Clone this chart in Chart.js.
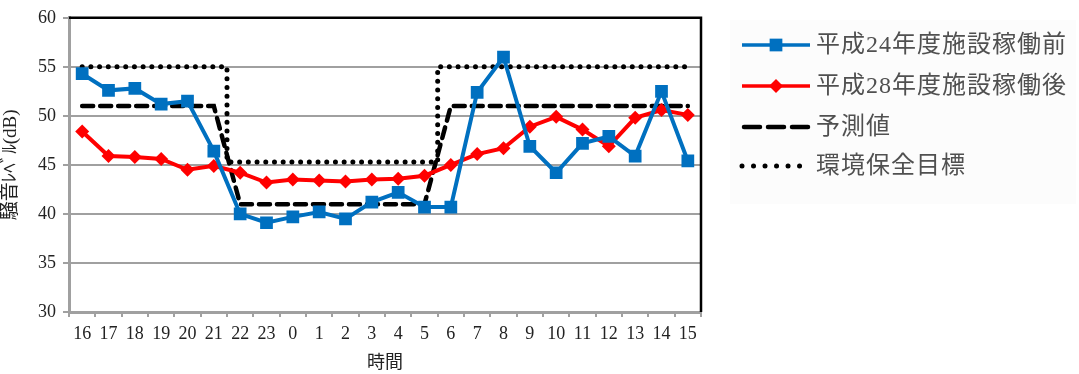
<!DOCTYPE html>
<html>
<head>
<meta charset="utf-8">
<script src="https://cdn.jsdelivr.net/npm/chart.js@4/dist/chart.umd.min.js"></script>
<style>
  html, body { margin: 0; padding: 0; background: #fff; }
  #wrap { width: 1079px; height: 374px; }
</style>
</head>
<body>
<div id="wrap"><canvas id="c" width="1079" height="374"></canvas></div>
<script>
// Hours of the 24-hour survey, starting at 16:00
const hours = ['16','17','18','19','20','21','22','23','0','1','2','3','4','5','6','7','8','9','10','11','12','13','14','15'];

// Measured noise levels (dB)
const beforeH24 = [54.3, 52.6, 52.8, 51.2, 51.5, 46.4, 40.0, 39.1, 39.7, 40.2, 39.5, 41.2,
                   42.2, 40.7, 40.7, 52.4, 56.0, 46.9, 44.2, 47.2, 47.9, 45.9, 52.5, 45.4];
const afterH28  = [48.4, 45.9, 45.8, 45.6, 44.5, 44.9, 44.2, 43.2, 43.5, 43.4, 43.3, 43.5,
                   43.6, 43.9, 45.0, 46.1, 46.7, 48.9, 49.9, 48.6, 46.9, 49.8, 50.6, 50.1];

// Predicted level and environmental target (day / night)
const predicted = [51, 51, 51, 51, 51, 51, 41, 41, 41, 41, 41, 41,
                   41, 41, 51, 51, 51, 51, 51, 51, 51, 51, 51, 51];
const target    = [55, 55, 55, 55, 55, 55, 45.3, 45.3, 45.3, 45.3, 45.3, 45.3,
                   45.3, 45.3, 55, 55, 55, 55, 55, 55, 55, 55, 55, 55];

const seriesNames = ['平成24年度施設稼働前', '平成28年度施設稼働後', '予測値', '環境保全目標'];
const yTicks = { min: 30, max: 60, step: 5 };

const FONT = "'Liberation Serif', 'Noto Sans CJK JP', serif";
const GRID = '#a0a0a0';

// Frame: black top edge and right edge of the plot area
const framePlugin = {
  id: 'frame',
  beforeDatasetsDraw(chart) {
    const { ctx, chartArea: a } = chart;
    ctx.save();
    ctx.strokeStyle = '#000';
    ctx.lineWidth = 2.5;
    ctx.beginPath();
    ctx.moveTo(a.left, a.top);
    ctx.lineTo(a.right, a.top);
    ctx.lineTo(a.right, a.bottom);
    ctx.stroke();
    ctx.restore();
  }
};

// Legend drawn from each dataset's own style
const legendPlugin = {
  id: 'sideLegend',
  afterDraw(chart) {
    const { ctx } = chart;
    ctx.save();
    ctx.fillStyle = '#fcfcfc';
    ctx.fillRect(730, 20, 346, 184);
    const rowsY = [45, 86, 127, 166];
    const x0 = 742, x1 = 810;
    chart.data.datasets.forEach((ds, i) => {
      const y = rowsY[i];
      ctx.save();
      ctx.strokeStyle = ds.borderColor;
      ctx.lineWidth = ds.pointRadius > 0 ? 3.5 : ds.borderWidth;
      ctx.lineCap = ds.borderCapStyle || 'butt';
      // legend samples use a longer pattern so three dashes / six dots fit
      const dash = ds.borderDash || [];
      ctx.setLineDash(dash.length ? (dash[0] < 1 ? [0.01, 11.5] : [16, 8]) : []);
      ctx.beginPath();
      ctx.moveTo(dash.length && dash[0] >= 1 ? x0 + 2 : x0, y);
      ctx.lineTo(x1, y);
      ctx.stroke();
      ctx.restore();
      if (ds.pointRadius > 0) {
        ctx.fillStyle = ds.pointBackgroundColor;
        ctx.strokeStyle = ds.pointBorderColor;
        Chart.helpers.drawPoint(ctx, {
          pointStyle: ds.pointStyle,
          radius: ds.pointRadius,
          rotation: 0,
          borderWidth: 0
        }, (x0 + x1) / 2, y);
      }
      ctx.fillStyle = '#505050';
      ctx.font = '24px ' + FONT;
      ctx.letterSpacing = '1px';
      ctx.textBaseline = 'middle';
      ctx.textAlign = 'left';
      ctx.fillText(ds.label, 816, y + 1);
    });
    ctx.restore();
  }
};

new Chart(document.getElementById('c'), {
  type: 'line',
  data: {
    labels: hours,
    datasets: [
      {
        label: seriesNames[0], data: beforeH24,
        borderColor: '#0070C0', backgroundColor: '#0070C0',
        borderWidth: 4, tension: 0,
        pointStyle: 'rect', pointRadius: 9,
        pointBackgroundColor: '#0070C0', pointBorderColor: '#0070C0', pointBorderWidth: 0
      },
      {
        label: seriesNames[1], data: afterH28,
        borderColor: '#FF0000', backgroundColor: '#FF0000',
        borderWidth: 4, tension: 0,
        pointStyle: 'rectRot', pointRadius: 7,
        pointBackgroundColor: '#FF0000', pointBorderColor: '#FF0000', pointBorderWidth: 0
      },
      {
        label: seriesNames[2], data: predicted,
        borderColor: '#000', borderWidth: 4.5,
        borderDash: [11, 7], borderCapStyle: 'round',
        pointRadius: 0, tension: 0
      },
      {
        label: seriesNames[3], data: target,
        borderColor: '#000', borderWidth: 5,
        borderDash: [0.01, 8.7], borderCapStyle: 'round',
        stepped: 'middle', pointRadius: 0
      }
    ]
  },
  options: {
    responsive: false,
    animation: false,
    devicePixelRatio: 1,
    layout: { padding: { top: 15, right: 378, left: 0, bottom: 0 } },
    plugins: {
      legend: { display: false },
      tooltip: { enabled: false }
    },
    scales: {
      x: {
        offset: true,
        afterFit(s) { s.height = 62; },
        grid: { drawOnChartArea: false, offset: true, drawTicks: true, tickLength: 5, color: GRID, lineWidth: 2 },
        border: { display: true, color: GRID, width: 3 },
        ticks: { color: '#222', font: { family: FONT, size: 18 }, padding: 6, autoSkip: false, maxRotation: 0 },
        title: { display: true, text: '時間', color: '#222', font: { family: FONT, size: 18 }, padding: { top: 0, bottom: 0 } }
      },
      y: {
        min: yTicks.min, max: yTicks.max,
        afterFit(s) { s.width = 69; },
        grid: {
          color: GRID, lineWidth: 2, tickLength: 6, drawTicks: true
        },
        border: { display: true, color: GRID, width: 3 },
        ticks: { stepSize: yTicks.step, color: '#222', font: { family: FONT, size: 18 }, padding: 7 },
        title: { display: true, text: '騒音ﾚﾍﾞﾙ(dB)', color: '#222', font: { family: FONT, size: 19 }, padding: { top: 0, bottom: 6 } }
      }
    }
  },
  plugins: [framePlugin, legendPlugin]
});
</script>
</body>
</html>
